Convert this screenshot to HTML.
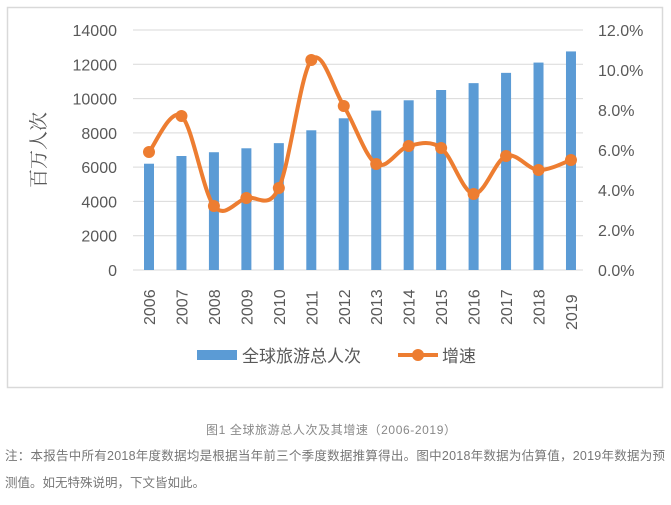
<!DOCTYPE html>
<html><head><meta charset="utf-8"><style>
body{margin:0;background:#fff;width:671px;height:505px;overflow:hidden;font-family:"Liberation Sans","Noto Sans CJK SC",sans-serif;}
svg{position:absolute;left:0;top:0}
</style></head><body>
<svg id="s" width="671" height="505" xmlns="http://www.w3.org/2000/svg" font-family="Liberation Sans, Noto Sans CJK SC, sans-serif">
<rect x="7.5" y="7.5" width="655" height="380" fill="#fff" stroke="#d9d9d9" stroke-width="1.5"/>
<g id="g"></g>
<text x="45" y="150" font-size="19" fill="#595959" text-anchor="middle" transform="rotate(-90 45 150)" font-family="Noto Serif CJK SC, serif">百万人次</text>
<rect x="197" y="350" width="40" height="10" fill="#5b9bd5"/>
<text x="242" y="362" font-size="17" fill="#595959">全球旅游总人次</text>
<line x1="398" y1="355" x2="438" y2="355" stroke="#ed7d31" stroke-width="4"/>
<circle cx="418" cy="355" r="6" fill="#ed7d31"/>
<text x="442" y="362" font-size="17" fill="#595959">增速</text>
<text x="331" y="434" font-size="12" fill="#888" text-anchor="middle" textLength="250">图1 全球旅游总人次及其增速（2006-2019）</text>
<text x="5" y="460" font-size="12.5" fill="#777" textLength="660">注：本报告中所有2018年度数据均是根据当年前三个季度数据推算得出。图中2018年数据为估算值，2019年数据为预</text>
<text x="5" y="487" font-size="12.5" fill="#777">测值。如无特殊说明，下文皆如此。</text>
</svg>
<script>
var g=document.getElementById('g'),h='';
for(var k=0;k<=7;k++){var y=270-k*240/7;h+='<line x1="133" x2="583" y1="'+y+'" y2="'+y+'" stroke="#d9d9d9" stroke-width="1"/>';
h+='<text x="117" y="'+(y+6)+'" font-size="16" fill="#595959" text-anchor="end">'+(k*2000)+'</text>';}
for(var k=0;k<=6;k++){var y=270-k*40;h+='<text x="598" y="'+(y+6)+'" font-size="16" fill="#595959">'+(k*2).toFixed(1)+'%</text>';}
var v=[6200,6650,6870,7100,7400,8150,8850,9300,9900,10500,10900,11500,12100,12750];
var p=[5.9,7.7,3.2,3.6,4.1,10.5,8.2,5.3,6.2,6.1,3.8,5.7,5.0,5.5];
var P=[];
for(var i=0;i<14;i++){var x=149+32.46*i,bh=v[i]*240/14000;
h+='<rect x="'+(x-5)+'" y="'+(270-bh)+'" width="10" height="'+bh+'" fill="#5b9bd5"/>';
h+='<text font-size="16" fill="#595959" transform="translate('+(x+6)+','+(i==13?330:325)+') rotate(-90)">'+(2006+i)+'</text>';
P.push([x,270-20*p[i]]);}
var d='M'+P[0][0]+','+P[0][1];
for(var i=0;i<13;i++){var a=P[i-1]||P[i],b=P[i],c=P[i+1],e=P[i+2]||c;
d+=' C'+(b[0]+(c[0]-a[0])/6)+','+(b[1]+(c[1]-a[1])/6)+' '+(c[0]-(e[0]-b[0])/6)+','+(c[1]-(e[1]-b[1])/6)+' '+c[0]+','+c[1];}
h+='<path d="'+d+'" fill="none" stroke="#ed7d31" stroke-width="4"/>';
for(var i=0;i<14;i++)h+='<circle cx="'+P[i][0]+'" cy="'+P[i][1]+'" r="6" fill="#ed7d31"/>';
g.innerHTML=h;
</script>
</body></html>
